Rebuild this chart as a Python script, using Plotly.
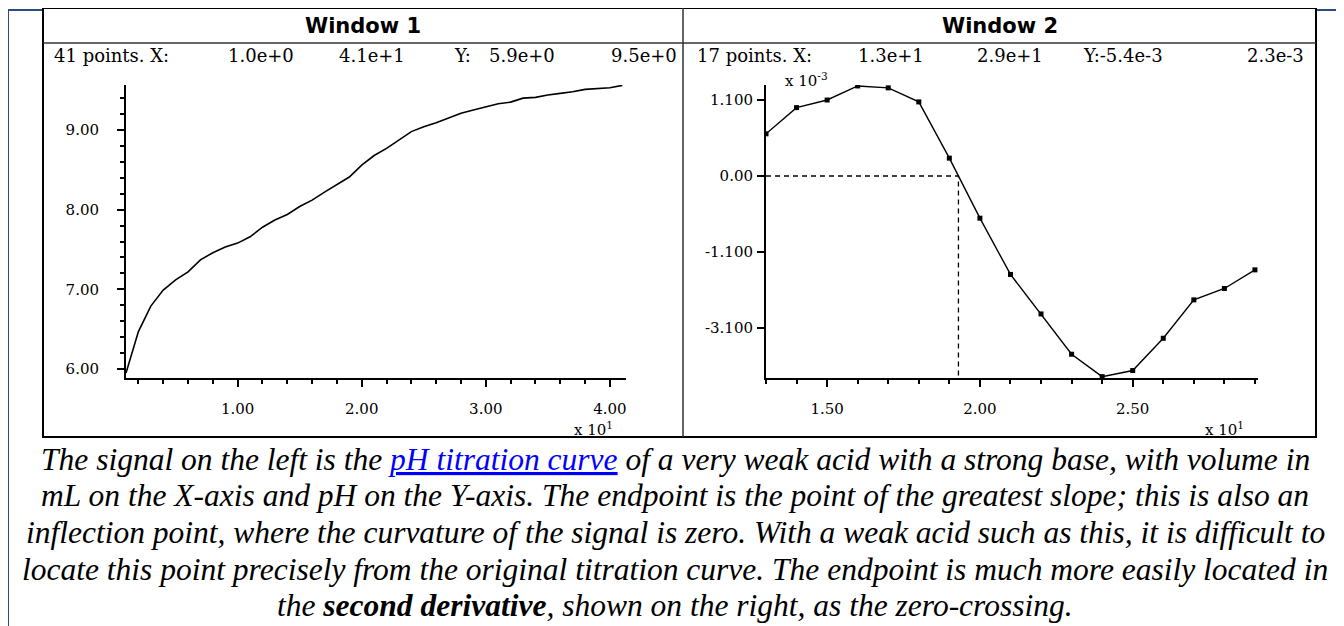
import plotly.graph_objects as go

W, H = 1344, 626
OX, OY = 8, 8  # page body margin

# Window 1: titration curve (volume mL vs pH)
vol = list(range(1, 42))
ph = [5.95, 6.47, 6.79, 6.99, 7.12, 7.22, 7.37, 7.46, 7.53, 7.58,
      7.66, 7.78, 7.87, 7.94, 8.04, 8.12, 8.22, 8.31, 8.41, 8.56,
      8.68, 8.77, 8.87, 8.98, 9.04, 9.09, 9.15, 9.21, 9.25, 9.29,
      9.33, 9.35, 9.40, 9.41, 9.44, 9.46, 9.48, 9.51, 9.52, 9.53, 9.56]

# Window 2: second derivative (x 10^-3)
vol2 = list(range(13, 30))
d2 = [1.11, 1.80, 2.00, 2.37, 2.32, 1.95, 0.47, -1.11, -2.59, -3.63,
      -4.69, -5.28, -5.12, -4.27, -3.26, -2.96, -2.47]

x1_ticks = [10, 20, 30, 40]
x1_text = ["1.00", "2.00", "3.00", "4.00"]
y1_ticks = [6, 7, 8, 9]
y1_text = ["6.00", "7.00", "8.00", "9.00"]
x2_ticks = [15, 20, 25]
x2_text = ["1.50", "2.00", "2.50"]
y2_ticks = [2, 0, -2, -4]
y2_text = ["1.100", "0.00", "-1.100", "-3.100"]

info1 = ["41 points. X:", "1.0e+0", "4.1e+1", "Y:", "5.9e+0", "9.5e+0"]
info2 = ["17 points. X:", "1.3e+1", "2.9e+1", "Y:-5.4e-3", "2.3e-3"]

caption = [
    "The signal on the left is the <span style='color:#0000ff;text-decoration:underline'>pH titration curve</span>"
    " of a very weak acid with a strong base, with volume in",
    "mL on the X-axis and pH on the Y-axis. The endpoint is the point of the greatest slope; this is also an",
    "inflection point, where the curvature of the signal is zero. With a weak acid such as this, it is difficult to",
    "locate this point precisely from the original titration curve. The endpoint is much more easily located in",
    "the <b>second derivative</b>, shown on the right, as the zero-crossing.",
]

x1_range = [1, 41.3]
y1_range = [5.887, 9.565]
x2_range = [13, 29.1]
y2_range = [-5.316, 2.395]

# zero crossing of the second derivative
x0 = None
for i in range(len(d2) - 1):
    if d2[i] >= 0 and d2[i + 1] < 0:
        x0 = vol2[i] + d2[i] / (d2[i] - d2[i + 1])
        break

FW, FH = W - OX, H - OY


def px(x):
    return (x - OX) / FW


def py(y):
    return 1 - (y - OY) / FH


fig = go.Figure()

fig.add_trace(go.Scatter(x=vol, y=ph, mode="lines",
                         line=dict(color="black", width=1.6),
                         xaxis="x", yaxis="y", hoverinfo="skip"))
fig.add_trace(go.Scatter(x=[x2_range[0], x0, x0], y=[0, 0, y2_range[0]], mode="lines",
                         line=dict(color="black", width=1.3, dash="5px,4px"),
                         xaxis="x2", yaxis="y2", hoverinfo="skip"))
fig.add_trace(go.Scatter(x=vol2, y=d2, mode="lines+markers",
                         line=dict(color="black", width=1.4),
                         marker=dict(symbol="square", size=5, color="black"),
                         xaxis="x2", yaxis="y2", hoverinfo="skip"))

tickfont = dict(family="DejaVu Serif", size=15, color="black")
common = dict(showline=True, linecolor="black", linewidth=2, ticks="outside",
              tickcolor="black", ticklen=7, tickwidth=1.5, showgrid=False,
              zeroline=False, tickfont=tickfont, tickmode="array", fixedrange=True)


def minor(d):
    return dict(tickmode="linear", tick0=0, dtick=d, ticks="outside",
                ticklen=4, tickwidth=1.5, tickcolor="black", showgrid=False)


ydom = [py(378), py(85)]
fig.update_layout(
    xaxis=dict(common, domain=[px(126), px(626)], range=x1_range, anchor="y",
               tickvals=x1_ticks, ticktext=x1_text, minor=minor(2), ticklabelstandoff=9),
    yaxis=dict(common, domain=ydom, range=y1_range, anchor="x",
               tickvals=y1_ticks, ticktext=y1_text, minor=minor(0.2), ticklabelstandoff=15),
    xaxis2=dict(common, domain=[px(766), px(1258)], range=x2_range, anchor="y2",
                tickvals=x2_ticks, ticktext=x2_text, minor=minor(1), ticklabelstandoff=9),
    yaxis2=dict(common, domain=ydom, range=y2_range, anchor="x2",
                tickvals=y2_ticks, ticktext=y2_text, ticklabelstandoff=1),
)

shapes = [
    dict(type="line", x0=px(8), x1=px(8), y0=py(10), y1=py(626), line=dict(color="#2b4c7e", width=2)),
    dict(type="line", x0=px(8), x1=px(1344), y0=py(10), y1=py(10), line=dict(color="#2b4c7e", width=2)),
    dict(type="rect", x0=px(43), x1=px(1316), y0=py(437), y1=py(8), fillcolor="white",
         line=dict(color="black", width=2)),
    dict(type="line", x0=px(43), x1=px(1316), y0=py(43), y1=py(43), line=dict(color="#333333", width=1.5)),
    dict(type="line", x0=px(683), x1=px(683), y0=py(8), y1=py(437), line=dict(color="#333333", width=1.5)),
]
for s in shapes:
    s.update(xref="paper", yref="paper", layer="below")
fig.update_layout(shapes=shapes)

ann = []
title_font = dict(family="DejaVu Sans", size=21, color="black", weight="bold")
ann.append(dict(x=px(363), y=py(26), text="Window 1", font=title_font, xanchor="center"))
ann.append(dict(x=px(1000), y=py(26), text="Window 2", font=title_font, xanchor="center"))

info_font = dict(family="DejaVu Serif", size=18, color="black")
info1_x = [52, 226, 337, 452, 487, 679]
for t, xx in zip(info1, info1_x):
    ann.append(dict(x=px(xx), y=py(55), text=t, font=info_font,
                    xanchor="right" if xx == info1_x[-1] else "left"))
info2_x = [695, 856, 975, 1081, 1306]
for t, xx in zip(info2, info2_x):
    ann.append(dict(x=px(xx), y=py(55), text=t, font=info_font,
                    xanchor="right" if xx == info2_x[-1] else "left"))

exp_font = dict(family="DejaVu Serif", size=15, color="black")
ann.append(dict(x=px(572), y=py(429), text="x 10<sup>1</sup>", font=exp_font, xanchor="left"))
ann.append(dict(x=px(1203), y=py(429), text="x 10<sup>1</sup>", font=exp_font, xanchor="left"))
ann.append(dict(x=px(783), y=py(80), text="x 10<sup>-3</sup>", font=exp_font, xanchor="left"))

cap_font = dict(family="Liberation Serif", size=31.5, color="black", style="italic")
cap_y = [459, 496, 532, 569, 605]
for t, yy in zip(caption, cap_y):
    ann.append(dict(x=px(675), y=py(yy), text=t, font=cap_font, xanchor="center"))

for a in ann:
    a.update(xref="paper", yref="paper", showarrow=False, yanchor="middle")
fig.update_layout(annotations=ann)

fig.update_layout(width=FW, height=FH, autosize=False, margin=dict(l=0, r=0, t=0, b=0),
                  paper_bgcolor="white", plot_bgcolor="rgba(0,0,0,0)", showlegend=False)

fig.write_html("out.html", config={"displayModeBar": False})
